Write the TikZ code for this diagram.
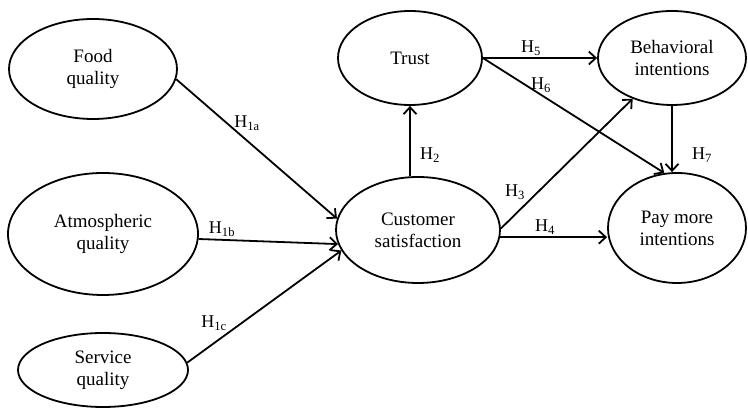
\documentclass[tikz,border=0pt]{standalone}
\usepackage{fontspec}
\setmainfont{Liberation Serif}
\usetikzlibrary{arrows.meta,shapes.geometric}
\tikzset{
  construct/.style={draw=black, line width=1.8pt, ellipse, align=center,
    font=\fontsize{19}{22}\selectfont, inner sep=0pt},
  hpath/.style={line width=1.8pt, -{Straight Barb[length=7pt,width=13pt,line width=1.8pt]}},
  hyp/.style={font=\fontsize{18}{20}\selectfont, inner sep=1pt}
}
\begin{document}
\begin{tikzpicture}[x=1pt, y=1pt]
\useasboundingbox (0,0) rectangle (748,411);

% constructs
\node [construct, minimum width=168pt, minimum height=100pt] (food) at (93,342) {Food\\quality};
\node [construct, minimum width=190pt, minimum height=122pt] (atmos) at (103,177) {Atmospheric\\quality};
\node [construct, minimum width=170pt, minimum height=74pt] (service) at (103,41) {Service\\quality};
\node [construct, minimum width=164pt, minimum height=106pt] (cust) at (418,181) {Customer\\satisfaction};
\node [construct, minimum width=144pt, minimum height=94pt] (trust) at (410,353) {Trust};
\node [construct, minimum width=148pt, minimum height=94pt] (behav) at (672,353) {Behavioral\\intentions};
\node [construct, minimum width=138pt, minimum height=110pt] (pay) at (677,183) {Pay more\\intentions};

% paths
\draw [hpath] (food.-7) -- (cust.172);
\draw [hpath] (atmos.-3) -- (cust.190);
\draw [hpath] (service.5) -- (cust.195);
\draw [hpath] (cust.north -| trust.south) -- (trust.south);
\draw [hpath] (cust.1) -- (behav.226);
\draw [hpath] (cust.-5) -- (cust.-5 -| pay.west);
\draw [hpath] (trust.east) -- (behav.west);
\draw [hpath] (trust.east) -- (pay.103);
\draw [hpath] (behav.south) -- (behav.south |- pay.north);

% hypotheses
\node [hyp] (h1a) at (247,288) {H\textsubscript{1a}};
\node [hyp] (h1b) at (222,182) {H\textsubscript{1b}};
\node [hyp] (h1c) at (214,88) {H\textsubscript{1c}};
\node [hyp] (h2) at (430,256) {H\textsubscript{2}};
\node [hyp] (h3) at (515,219) {H\textsubscript{3}};
\node [hyp] (h4) at (545,184) {H\textsubscript{4}};
\node [hyp] (h5) at (531,363) {H\textsubscript{5}};
\node [hyp] (h6) at (541,326) {H\textsubscript{6}};
\node [hyp] (h7) at (702,256) {H\textsubscript{7}};

\end{tikzpicture}
\end{document}
